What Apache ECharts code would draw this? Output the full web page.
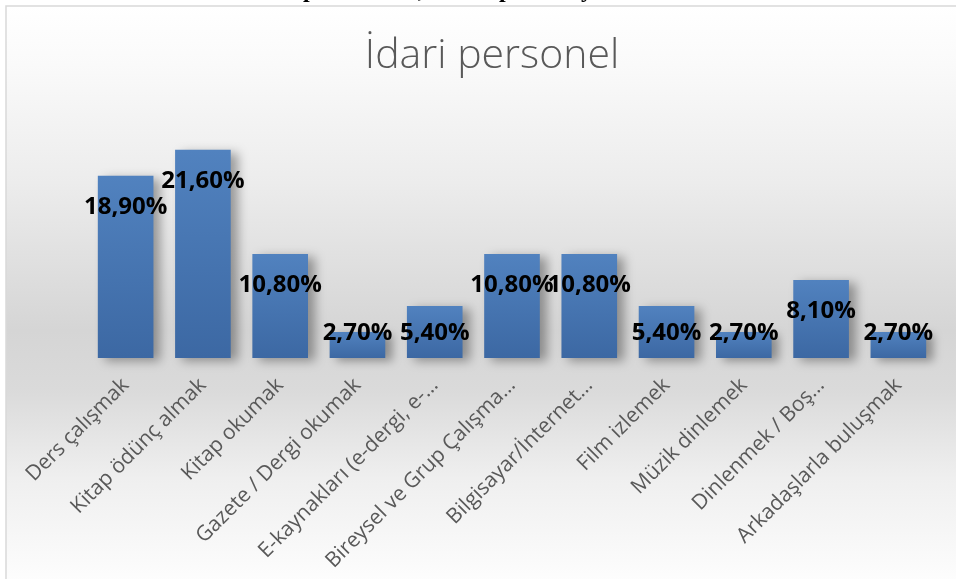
<!DOCTYPE html>
<html>
<head>
<meta charset="utf-8">
<title>İdari personel</title>
<script src="https://cdn.jsdelivr.net/npm/echarts@6/dist/echarts.min.js"></script>
<style>
	html,body{margin:0;padding:0;background:#fff;}
	#chart{width:956px;height:579px;}
</style>
</head>
<body>
<div id="chart"></div>
<script>
// kategoriler (eksen yazıları resimdeki gibi kısaltılmış)
var categories = ['Ders çalışmak','Kitap ödünç almak','Kitap okumak','Gazete / Dergi okumak','E-kaynakları (e-dergi, e-…','Bireysel ve Grup Çalışma…','Bilgisayar/İnternet…','Film izlemek','Müzik dinlemek','Dinlenmek / Boş…','Arkadaşlarla buluşmak'];
// yüzdeler
var values = [18.9, 21.6, 10.8, 2.7, 5.4, 10.8, 10.8, 5.4, 2.7, 8.1, 2.7];

var chart = echarts.init(document.getElementById('chart'));

// küçük çubuklarda etiket alttan, büyüklerde üstten
var barData = [];
for (var i = 0; i < values.length; i++) {
	var lbl = values[i] >= 8
		? {position:'insideTop', distance:19}
		: {position:'insideBottom', distance:13};
	barData.push({value:values[i], label:lbl});
}

// üstte kesilmiş başlık satırının görünen parçaları
var topGlyphs = [['p',303],[',',418],['p',499],['y',581]];
var graphics = [
	{
		type:'rect',
		z:-10,
		shape:{x:6, y:6, width:980, height:590},
		style:{
			fill:new echarts.graphic.LinearGradient(0,0,0,1,[
				{offset:0, color:'#ffffff'},
				{offset:0.1, color:'#fafafa'},
				{offset:0.3, color:'#ececec'},
				{offset:0.55, color:'#d5d5d5'},
				{offset:0.65, color:'#dadada'},
				{offset:0.8, color:'#efefef'},
				{offset:1, color:'#ffffff'}
			]),
			stroke:'#d9d9d9',
			lineWidth:1.5
		}
	}
];
for (var j = 0; j < topGlyphs.length; j++) {
	graphics.push({
		type:'text',
		x:topGlyphs[j][1],
		y:-9,
		style:{
			text:topGlyphs[j][0],
			fill:'#000',
			font:'bold 24px "Liberation Serif"',
			verticalAlign:'middle'
		}
	});
}

var option = {
	animation:false,
	graphic:graphics,
	title:{
		text:'İdari personel',
		left:487,
		top:31,
		textAlign:'center',
		textStyle:{
			color:'#595959',
			fontFamily:'Open Sans',
			fontWeight:300,
			fontSize:41
		}
	},
	grid:{left:87, right:19, top:117, bottom:221},
	xAxis:{
		type:'category',
		data:categories,
		axisLine:{show:false},
		axisTick:{show:false},
		axisLabel:{
			rotate:45,
			interval:0,
			margin:24,
			color:'#595959',
			fontFamily:'Open Sans',
			fontSize:21
		}
	},
	yAxis:{
		type:'value',
		min:0,
		max:25,
		show:false,
		splitLine:{show:false}
	},
	series:[
		{
			type:'bar',
			data:barData,
			barCategoryGap:'28%',
			itemStyle:{
				color:new echarts.graphic.LinearGradient(0,0,0,1,[
					{offset:0, color:'#5182bf'},
					{offset:1, color:'#3c68a3'}
				]),
				shadowColor:'rgba(0,0,0,0.35)',
				shadowBlur:10,
				shadowOffsetX:7,
				shadowOffsetY:3
			},
			label:{
				show:true,
				color:'#000',
				fontFamily:'Open Sans',
				fontWeight:'bold',
				fontSize:24,
				formatter:function(p){
					return p.value.toFixed(2).replace('.', ',') + '%';
				}
			}
		}
	]
};
chart.setOption(option);
</script>
</body>
</html>
